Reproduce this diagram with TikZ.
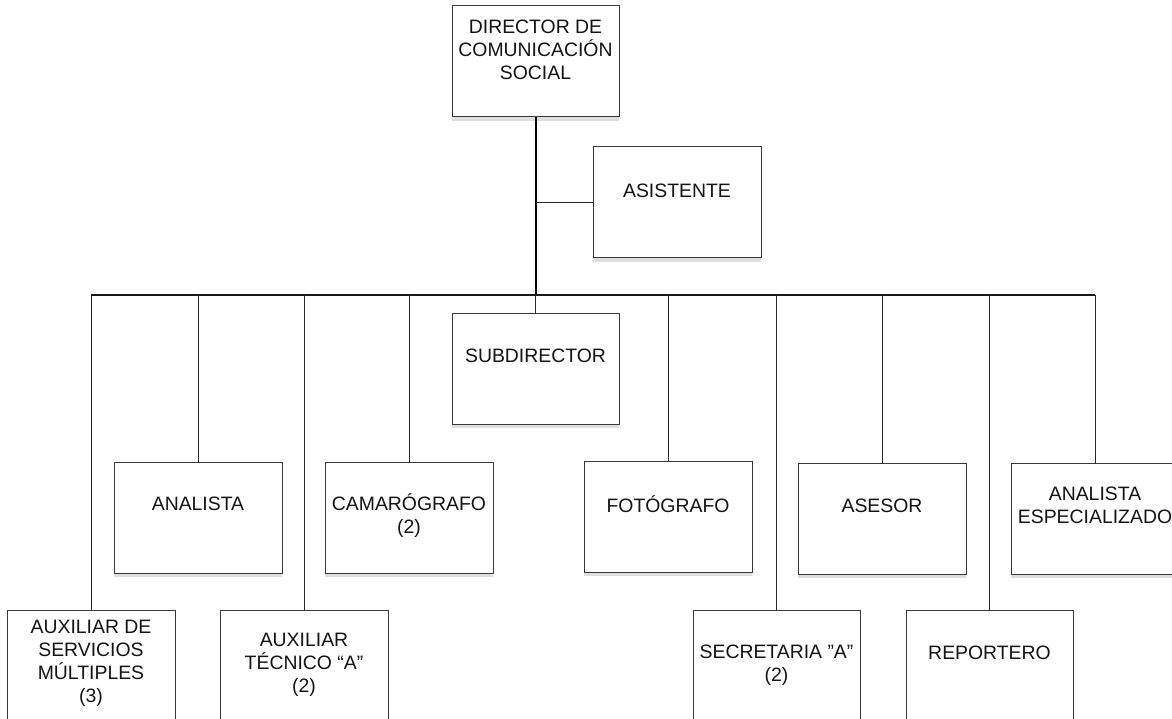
\documentclass[tikz,border=0pt]{standalone}
\usepackage{fontspec}
\setmainfont{Liberation Sans}
\usetikzlibrary{shadows}
\begin{document}
\begin{tikzpicture}[x=1pt,y=-1pt,
  orgbox/.style={draw=black!78, line width=1pt, fill=white, minimum width=168pt, minimum height=111pt, inner sep=0pt,
    drop shadow={shadow xshift=0pt, shadow yshift=-4pt, fill=black!13, opacity=1}},
  lbl/.style={font=\fontsize{19.4}{23}\selectfont, align=center, inner sep=0pt, text=black!92},
  conn/.style={draw=black!85, line width=1pt},
  trunk/.style={draw=black, line width=2pt},
  busline/.style={draw=black!90, line width=1.6pt}]
\clip (0,0) rectangle (1172,719);
\fill[white] (0,0) rectangle (1172,719);

% boxes
\node[orgbox, minimum width=167pt] (dir) at (535.5,61.5) {};
\node[orgbox] (asis) at (677,202.5) {};
\node[orgbox, minimum width=167pt] (sub) at (535.5,368.5) {};
\node[orgbox] (anal) at (198,517.5) {};
\node[orgbox] (cam) at (409,517.5) {};
\node[orgbox] (foto) at (668,516.5) {};
\node[orgbox] (ases) at (882,518.5) {};
\node[orgbox] (aesp) at (1095,518.5) {};
\node[orgbox] (aux1) at (91,665.5) {};
\node[orgbox] (aux2) at (304,665.5) {};
\node[orgbox, minimum width=167pt] (sec) at (776.5,665.5) {};
\node[orgbox, minimum width=167pt] (rep) at (989.5,665.5) {};

% labels
\node[lbl] (dir-t) at (535.5,50) {DIRECTOR DE\\COMUNICACIÓN\\SOCIAL};
\node[lbl] (asis-t) at (677,191) {ASISTENTE};
\node[lbl] (sub-t) at (535.5,356) {SUBDIRECTOR};
\node[lbl] (anal-t) at (198,504) {ANALISTA};
\node[lbl] (cam-t) at (409,516) {CAMARÓGRAFO\\(2)};
\node[lbl] (foto-t) at (668,504) {FOTÓGRAFO};
\node[lbl] (ases-t) at (882,506) {ASESOR};
\node[lbl] (aesp-t) at (1095,505.5) {ANALISTA\\ESPECIALIZADO};
\node[lbl] (aux1-t) at (91,663.5) {AUXILIAR DE\\SERVICIOS\\MÚLTIPLES\\(3)};
\node[lbl] (aux2-t) at (304,665) {AUXILIAR\\TÉCNICO “A”\\(2)};
\node[lbl] (sec-t) at (776.5,665.5) {SECRETARIA ”A”\\(2)};
\node[lbl] (rep-t) at (989.5,653) {REPORTERO};

% bus coordinates
\coordinate (busmid) at (535.5,295);
\coordinate (busL) at (91,295);
\coordinate (busR) at (1095,295);

% connectors
\draw[conn] (dir.south |- asis.west) -- (asis.west);
\draw[busline] (busL) -- (busR);
\draw[trunk] (dir.south) -- (busmid);
\draw[conn] (busmid) -- (sub.north);
\foreach \n in {aux1,anal,aux2,cam,foto,sec,ases,rep,aesp}{
  \draw[conn] (\n.north |- busL) -- (\n.north);
}
\end{tikzpicture}
\end{document}
